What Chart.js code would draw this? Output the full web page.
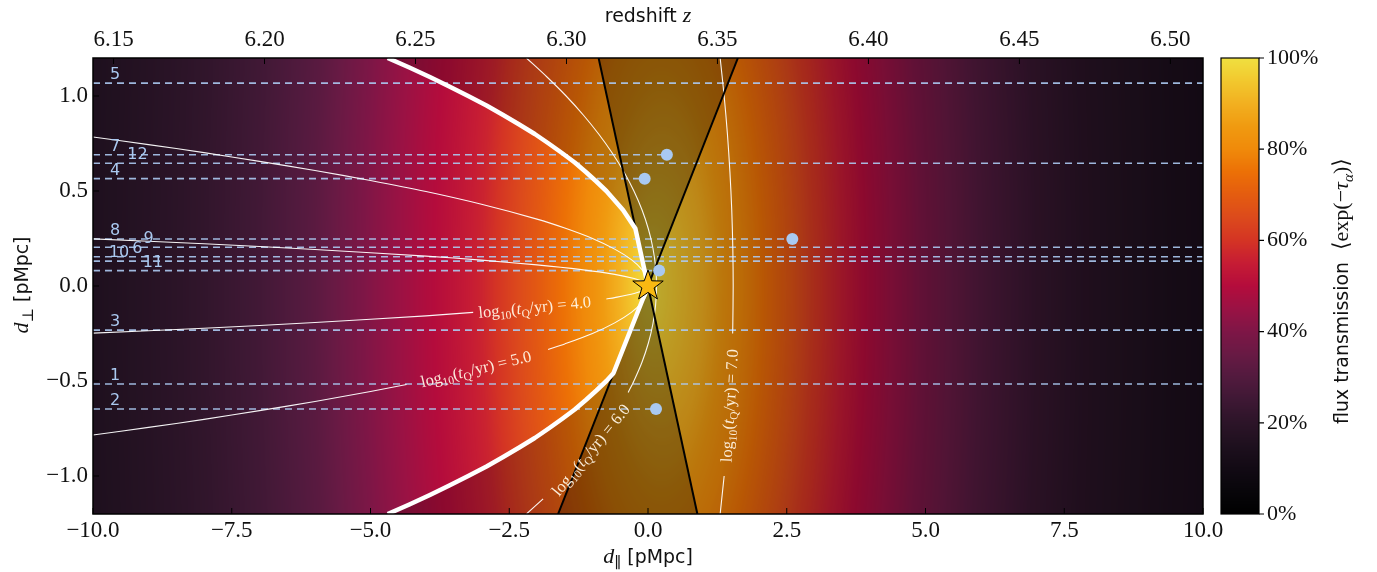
<!DOCTYPE html>
<html><head><meta charset="utf-8">
<script src="https://cdn.jsdelivr.net/npm/chart.js@4.4.1/dist/chart.umd.min.js"></script>
<style>html,body{margin:0;padding:0;background:#fff;}canvas{display:block;}</style>
</head><body>
<canvas id="c" width="1377" height="572"></canvas>
<script>
// ---------------- data ----------------
const xTicks = [-10, -7.5, -5, -2.5, 0, 2.5, 5, 7.5, 10];
const yTicks = [-1, -0.5, 0, 0.5, 1];
const zTicks = [6.15, 6.20, 6.25, 6.30, 6.35, 6.40, 6.45, 6.50];
const zRange = [6.1432, 6.5108];
const cbTicks = [0, 20, 40, 60, 80, 100];

// mean flux transmission along the line of sight (read at d_perp = 0)
const profX = [-10, -9, -8, -7, -6, -5, -4, -3.5, -3, -2.5, -2, -1.5, -1, -0.5, 0, 0.5, 1, 1.5, 2, 2.5, 3, 3.5, 4, 5, 6, 7, 8, 9, 10];
const profT = [0.15, 0.18, 0.215, 0.26, 0.32, 0.41, 0.49, 0.525, 0.565, 0.63, 0.69, 0.755, 0.82, 0.905, 1.0, 0.95, 0.9, 0.82, 0.76, 0.69, 0.61, 0.55, 0.49, 0.39, 0.30, 0.23, 0.185, 0.155, 0.13];

// colour map
const cmapT = [0, 0.05, 0.10, 0.15, 0.20, 0.25, 0.30, 0.35, 0.40, 0.45, 0.50, 0.55, 0.60, 0.65, 0.70, 0.75, 0.80, 0.85, 0.90, 0.95, 1.0];
const cmapC = ['#000000', '#08060a', '#120a14', '#1e101e', '#2c1428', '#3e1834', '#521a3e', '#681a44', '#7e1646', '#9a1244', '#b40c3c', '#c61c34', '#d43424', '#dc4a1c', '#e45c10', '#ec7006', '#f08a0a', '#f09a10', '#f2b020', '#f2c82e', '#f0e040'];

// background sightlines
const sightIds = ['5', '7', '12', '4', '8', '9', '6', '10', '11', '3', '1', '2'];
const sightY = [1.068, 0.691, 0.646, 0.565, 0.247, 0.204, 0.154, 0.131, 0.081, -0.232, -0.516, -0.647];
const sightXEnd = [10, 0.34, 10, -0.06, 2.6, 10, 10, 10, 0.20, 10, 10, 0.144];
// background quasars
const qsoX = [0.34, -0.06, 2.6, 0.20, 0.144];
const qsoY = [0.691, 0.565, 0.247, 0.081, -0.647];
// foreground quasar
const starX = [0];
const starY = [0];

// lifetime contours log10(tQ/yr) (null = label gap)
const tq4X = [-10, -8, -6, -4, -3, -2, -1.2, -0.6, -0.25, -0.05, 0.0, -0.05, -0.25, -0.6, -0.75, null, -3.15, -4, -6, -8, -10];
const tq4Y = [0.248, 0.222, 0.192, 0.157, 0.136, 0.111, 0.086, 0.061, 0.039, 0.018, 0, -0.018, -0.039, -0.061, -0.068, null, -0.139, -0.157, -0.192, -0.222, -0.248];
const tq5X = [-10, -9, -8, -7, -6, -5, -4, -3, -2, -1.5, -1, -0.6, -0.3, -0.1, 0, 0.015, 0, -0.1, -0.3, -0.6, -1, -1.5, -1.8, null, -4.35, -5, -6, -7, -8, -9, -10];
const tq5Y = [0.784, 0.744, 0.702, 0.656, 0.608, 0.555, 0.497, 0.430, 0.352, 0.305, 0.250, 0.194, 0.139, 0.084, 0.031, 0, -0.031, -0.084, -0.139, -0.194, -0.250, -0.305, -0.334, null, -0.518, -0.555, -0.608, -0.656, -0.702, -0.744, -0.784];
const tq6X = [-2.19, -1.82, -1.475, -1.166, -0.889, -0.645, -0.433, -0.254, -0.107, 0.007, 0.088, 0.137, 0.154, 0.137, 0.088, 0.007, -0.107, -0.254, -0.357, null, -1.89, -2.19];
const tq6Y = [1.2, 1.1, 1.0, 0.9, 0.8, 0.7, 0.6, 0.5, 0.4, 0.3, 0.2, 0.1, 0, -0.1, -0.2, -0.3, -0.4, -0.5, -0.56, null, -1.12, -1.2];
const tq7X = [1.30, 1.372, 1.431, 1.476, 1.509, 1.528, 1.535, 1.528, 1.525, null, 1.372, 1.30];
const tq7Y = [1.2, 1.0, 0.8, 0.6, 0.4, 0.2, 0, -0.2, -0.25, null, -1.0, -1.2];
const tqLabels = ['4.0', '5.0', '6.0', '7.0'];

// boundary of the illuminated region (thick white)
const bndX = [-4.69, -4.30, -3.93, -3.58, -3.24, -2.91, -2.61, -2.32, -2.04, -1.79, -1.55, -1.32, -1.12, -0.93, -0.75, -0.60, -0.45, -0.228, 0, -0.623, -0.75, -0.93, -1.12, -1.32, -1.55, -1.79, -2.04, -2.32, -2.61, -2.91, -3.24, -3.58, -3.93, -4.30, -4.69];
const bndY = [1.2, 1.15, 1.1, 1.05, 1.0, 0.95, 0.9, 0.85, 0.8, 0.75, 0.7, 0.65, 0.6, 0.55, 0.5, 0.45, 0.4, 0.303, 0, -0.459, -0.5, -0.55, -0.6, -0.65, -0.7, -0.75, -0.8, -0.85, -0.9, -0.95, -1.0, -1.05, -1.1, -1.15, -1.2];

// obscuration cone edges
const coneAX = [-0.89, 0.89], coneAY = [1.2, -1.2];
const coneBX = [1.62, -1.62], coneBY = [1.2, -1.2];

// ---------------- styles / annotation placement ----------------
const SERIF = '"Liberation Serif","DejaVu Serif",serif';
const SANS = '"DejaVu Sans","Liberation Sans",sans-serif';
const sightLabelX = [-9.6, -9.6, -9.2, -9.6, -9.6, -9.0, -9.2, -9.53, -8.92, -9.6, -9.6, -9.6];
const tqLabelPos = [[-2.04, -0.112], [-3.1, -0.437], [-1.03, -0.863], [1.468, -0.63]];
const tqLabelAng = [-5.6, -13.5, -50.6, -86.8];

// ---------------- helpers ----------------
function hex(h) { return [parseInt(h.slice(1, 3), 16), parseInt(h.slice(3, 5), 16), parseInt(h.slice(5, 7), 16)]; }
const cmapRGB = cmapC.map(hex);
const LUTN = 1024;
const LUT = new Uint8ClampedArray(LUTN * 3);
for (let i = 0; i < LUTN; i++) {
  const t = i / (LUTN - 1);
  let k = 0;
  while (k < cmapT.length - 2 && t > cmapT[k + 1]) k++;
  const f = (t - cmapT[k]) / (cmapT[k + 1] - cmapT[k]);
  for (let c = 0; c < 3; c++) LUT[i * 3 + c] = cmapRGB[k][c] + f * (cmapRGB[k + 1][c] - cmapRGB[k][c]);
}
function prof(x) {
  const n = profX.length;
  if (x <= profX[0]) return profT[0];
  if (x >= profX[n - 1]) return profT[n - 1];
  let k = 0;
  while (x > profX[k + 1]) k++;
  const f = (x - profX[k]) / (profX[k + 1] - profX[k]);
  return profT[k] + f * (profT[k + 1] - profT[k]);
}
function trans(x, y) {
  const r = Math.hypot(x, y);
  if (r < 1e-9) return prof(0);
  const w = (1 - x / r) / 2;
  return w * prof(-r) + (1 - w) * prof(r);
}
function pts(xs, ys) { return xs.map((v, i) => ({ x: v, y: ys[i] })); }

function drawRich(ctx, parts, cx, cy, ang, size, color) {
  const fonts = {
    r: size + 'px ' + SERIF,
    i: 'italic ' + size + 'px ' + SERIF,
    s: (size * 0.7) + 'px ' + SERIF,
    si: 'italic ' + (size * 0.7) + 'px ' + SERIF,
    sans: (size * 0.86) + 'px ' + SANS
  };
  const widths = parts.map(p => { ctx.font = fonts[p[1]]; return ctx.measureText(p[0]).width; });
  const total = widths.reduce((a, b) => a + b, 0);
  ctx.save();
  ctx.translate(cx, cy);
  ctx.rotate(ang * Math.PI / 180);
  ctx.fillStyle = color;
  ctx.textBaseline = 'alphabetic';
  ctx.textAlign = 'left';
  let x = -total / 2;
  const base = size * 0.32;
  parts.forEach((p, k) => {
    ctx.font = fonts[p[1]];
    const dy = (p[1] === 's' || p[1] === 'si') ? size * 0.22 : 0;
    ctx.fillText(p[0], x, base + dy);
    x += widths[k];
  });
  ctx.restore();
}

function makeStar(R) {
  const c = document.createElement('canvas');
  const s = Math.ceil(2 * R + 4);
  c.width = s; c.height = s;
  const g = c.getContext('2d');
  g.beginPath();
  for (let i = 0; i < 10; i++) {
    const rr = i % 2 === 0 ? R : R * 0.4;
    const a = -Math.PI / 2 + i * Math.PI / 5;
    const px = s / 2 + rr * Math.cos(a), py = s / 2 + rr * Math.sin(a);
    if (i === 0) g.moveTo(px, py); else g.lineTo(px, py);
  }
  g.closePath();
  g.fillStyle = '#f9b912';
  g.fill();
  g.lineWidth = 1;
  g.strokeStyle = '#000';
  g.lineJoin = 'miter';
  g.stroke();
  return c;
}

// ---------------- plugins ----------------
const heatPlugin = {
  id: 'heat',
  beforeDatasetsDraw(chart) {
    const { ctx, chartArea: a, scales } = chart;
    const sx = scales.x, sy = scales.y;
    const L = Math.round(a.left), T = Math.round(a.top);
    const W = Math.round(a.right) - L, H = Math.round(a.bottom) - T;
    const img = ctx.createImageData(W, H);
    const d = img.data;
    const xv = new Float64Array(W);
    for (let i = 0; i < W; i++) xv[i] = sx.getValueForPixel(L + i + 0.5);
    for (let j = 0; j < H; j++) {
      const yv = sy.getValueForPixel(T + j + 0.5);
      for (let i = 0; i < W; i++) {
        let t = trans(xv[i], yv);
        t = Math.max(0, Math.min(1, t));
        const k = Math.round(t * (LUTN - 1)) * 3;
        const o = (j * W + i) * 4;
        d[o] = LUT[k]; d[o + 1] = LUT[k + 1]; d[o + 2] = LUT[k + 2]; d[o + 3] = 255;
      }
    }
    ctx.putImageData(img, L, T);
    const X = v => sx.getPixelForValue(v), Y = v => sy.getPixelForValue(v);
    ctx.save();
    ctx.beginPath();
    ctx.rect(a.left, a.top, a.right - a.left, a.bottom - a.top);
    ctx.clip();
    // darken outside the illuminated region
    ctx.beginPath();
    ctx.rect(a.left, a.top, a.right - a.left, a.bottom - a.top);
    ctx.moveTo(X(sx.min), Y(sy.max));
    bndX.forEach((bx, k) => ctx.lineTo(X(bx), Y(bndY[k])));
    ctx.lineTo(X(sx.min), Y(sy.min));
    ctx.closePath();
    ctx.fillStyle = 'rgba(0,0,0,0.22)';
    ctx.fill('evenodd');
    // obscured bicone
    ctx.beginPath();
    ctx.moveTo(X(starX[0]), Y(starY[0]));
    ctx.lineTo(X(coneAX[0]), Y(coneAY[0]));
    ctx.lineTo(X(coneBX[0]), Y(coneBY[0]));
    ctx.closePath();
    ctx.moveTo(X(starX[0]), Y(starY[0]));
    ctx.lineTo(X(coneBX[1]), Y(coneBY[1]));
    ctx.lineTo(X(coneAX[1]), Y(coneAY[1]));
    ctx.closePath();
    ctx.fillStyle = 'rgba(0,0,0,0.26)';
    ctx.fill();
    ctx.restore();
  },
  afterDatasetsDraw(chart) {
    const { ctx, scales } = chart;
    const X = v => scales.x.getPixelForValue(v), Y = v => scales.y.getPixelForValue(v);
    // sightline ids
    ctx.save();
    ctx.font = '16px ' + SANS;
    ctx.fillStyle = '#aac9f0';
    ctx.textAlign = 'center';
    ctx.textBaseline = 'middle';
    sightIds.forEach((s, i) => ctx.fillText(s, X(sightLabelX[i]), Y(sightY[i]) - 8));
    ctx.restore();
    // contour labels
    tqLabels.forEach((lab, i) => {
      drawRich(ctx, [['log', 'r'], ['10', 's'], ['(', 'r'], ['t', 'i'], ['Q', 's'], ['/yr) = ' + lab, 'r']],
        X(tqLabelPos[i][0]), Y(tqLabelPos[i][1]), tqLabelAng[i], 16.5, 'rgba(255,244,228,0.95)');
    });
  },
  afterDraw(chart) {
    const { ctx, chartArea: a, scales } = chart;
    ctx.save();
    // frame
    ctx.strokeStyle = '#000';
    ctx.lineWidth = 1.5;
    ctx.strokeRect(a.left, a.top, a.right - a.left, a.bottom - a.top);
    // inward ticks
    ctx.lineWidth = 1;
    ctx.beginPath();
    xTicks.forEach(v => { const p = scales.x.getPixelForValue(v); ctx.moveTo(p, a.bottom); ctx.lineTo(p, a.bottom - 6); });
    zTicks.forEach(v => { const p = scales.x2.getPixelForValue(v); ctx.moveTo(p, a.top); ctx.lineTo(p, a.top + 6); });
    yTicks.forEach(v => { const p = scales.y.getPixelForValue(v); ctx.moveTo(a.left, p); ctx.lineTo(a.left + 6, p); });
    ctx.stroke();
    ctx.restore();
    // axis titles
    const cx = (a.left + a.right) / 2;
    drawRich(ctx, [['redshift ', 'sans'], ['z', 'i']], cx, 15, 0, 22, '#111');
    drawRich(ctx, [['d', 'i'], ['∥', 's'], [' [pMpc]', 'sans']], cx, 556, 0, 22, '#111');
    drawRich(ctx, [['d', 'i'], ['⊥', 's'], [' [pMpc]', 'sans']], 21, 285, -90, 22, '#111');
    // colour bar
    const bx = 1221, bw = 38, bt = a.top, bb = a.bottom;
    const H = Math.round(bb - bt);
    const img = ctx.createImageData(bw, H);
    for (let j = 0; j < H; j++) {
      const t = 1 - (j + 0.5) / H;
      const k = Math.round(t * (LUTN - 1)) * 3;
      for (let i = 0; i < bw; i++) {
        const o = (j * bw + i) * 4;
        img.data[o] = LUT[k]; img.data[o + 1] = LUT[k + 1]; img.data[o + 2] = LUT[k + 2]; img.data[o + 3] = 255;
      }
    }
    ctx.putImageData(img, bx, Math.round(bt));
    ctx.save();
    ctx.strokeStyle = '#000';
    ctx.lineWidth = 1.2;
    ctx.strokeRect(bx, bt, bw, bb - bt);
    ctx.fillStyle = '#111';
    ctx.font = '22px ' + SERIF;
    ctx.textAlign = 'left';
    ctx.textBaseline = 'middle';
    ctx.beginPath();
    cbTicks.forEach(v => {
      const p = bb - (v / 100) * (bb - bt);
      ctx.moveTo(bx + bw, p); ctx.lineTo(bx + bw + 5, p);
      ctx.fillText(v + '%', bx + bw + 8, p);
    });
    ctx.stroke();
    ctx.restore();
    drawRich(ctx, [['flux transmission  ', 'sans'], ['⟨exp(−', 'r'], ['τ', 'i'], ['α', 'si'], [')⟩', 'r']], 1341, 291, -90, 22, '#111');
  }
};

// ---------------- datasets ----------------
const datasets = [];
sightY.forEach((y, i) => datasets.push({
  type: 'scatter', showLine: true, data: [{ x: -10, y: y }, { x: sightXEnd[i], y: y }],
  borderColor: 'rgba(172,202,242,0.9)', borderWidth: 1.6, borderDash: [7, 5], pointRadius: 0, order: 7
}));
[[tq4X, tq4Y], [tq5X, tq5Y], [tq6X, tq6Y], [tq7X, tq7Y]].forEach(c => datasets.push({
  type: 'scatter', showLine: true, data: pts(c[0], c[1]), spanGaps: false,
  borderColor: 'rgba(255,255,255,0.95)', borderWidth: 1.1, tension: 0.3, pointRadius: 0, order: 6
}));
datasets.push({ type: 'scatter', showLine: true, data: pts(coneAX, coneAY), borderColor: '#000', borderWidth: 2, pointRadius: 0, order: 5 });
datasets.push({ type: 'scatter', showLine: true, data: pts(coneBX, coneBY), borderColor: '#000', borderWidth: 2, pointRadius: 0, order: 5 });
datasets.push({ type: 'scatter', showLine: true, data: pts(bndX, bndY), borderColor: '#ffffff', borderWidth: 4.5, borderJoinStyle: 'round', tension: 0, pointRadius: 0, order: 4 });
datasets.push({ type: 'scatter', data: pts(qsoX, qsoY), backgroundColor: '#a9c9f1', borderWidth: 0, pointRadius: 6, order: 3 });
datasets.push({ type: 'scatter', data: pts(starX, starY), pointStyle: makeStar(16), pointRadius: 16, order: 1 });

const tickFont = { family: SERIF, size: 23 };
const fmt = (v, n) => (v < 0 ? '−' : '') + Math.abs(v).toFixed(n);

new Chart(document.getElementById('c'), {
  type: 'scatter',
  data: { datasets },
  options: {
    responsive: false,
    animation: false,
    devicePixelRatio: 1,
    layout: { padding: { left: 0, right: 174, top: 0, bottom: 0 } },
    plugins: { legend: { display: false }, tooltip: { enabled: false } },
    scales: {
      x: {
        type: 'linear', position: 'bottom', min: -10, max: 10,
        grid: { display: false, drawTicks: false }, border: { display: false },
        ticks: { font: tickFont, color: '#111', padding: 3, maxRotation: 0, autoSkip: false, callback: v => fmt(v, 1) },
        afterBuildTicks: s => { s.ticks = xTicks.map(v => ({ value: v })); },
        afterFit: s => { s.height = 58; }
      },
      x2: {
        type: 'linear', position: 'top', min: zRange[0], max: zRange[1],
        grid: { display: false, drawTicks: false }, border: { display: false },
        ticks: { font: tickFont, color: '#111', padding: 4, maxRotation: 0, autoSkip: false, callback: v => v.toFixed(2) },
        afterBuildTicks: s => { s.ticks = zTicks.map(v => ({ value: v })); },
        afterFit: s => { s.height = 58; }
      },
      y: {
        type: 'linear', min: -1.2, max: 1.2,
        grid: { display: false, drawTicks: false }, border: { display: false },
        ticks: { font: tickFont, color: '#111', padding: 5, autoSkip: false, callback: v => fmt(v, 1) },
        afterBuildTicks: s => { s.ticks = yTicks.map(v => ({ value: v })); },
        afterFit: s => { s.width = 93; }
      }
    }
  },
  plugins: [heatPlugin]
});
</script>
</body></html>
